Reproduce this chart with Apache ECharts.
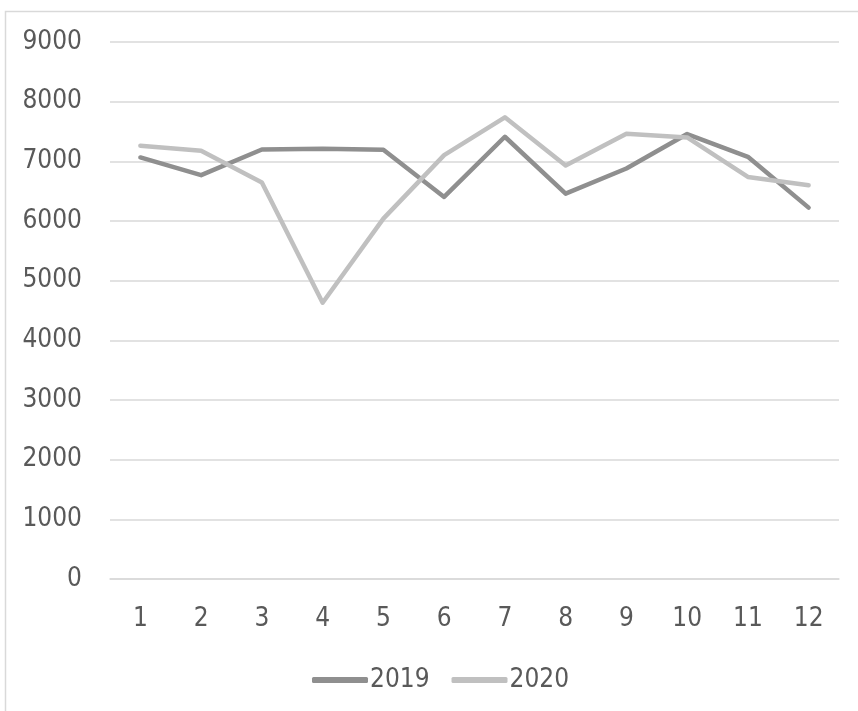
<!DOCTYPE html>
<html>
<head>
<meta charset="utf-8">
<script src="https://cdn.jsdelivr.net/npm/echarts@6/dist/echarts.min.js"></script>
<style>
html,body{margin:0;padding:0;background:#fff;}
#c{width:858px;height:711px;}
</style>
</head>
<body>
<div id="c"></div>
<script>
const categories = ['1','2','3','4','5','6','7','8','9','10','11','12'];
const values2019 = [7065, 6768, 7199, 7210, 7193, 6403, 7412, 6459, 6880, 7457, 7076, 6224];
const values2020 = [7261, 7176, 6644, 4630, 6039, 7104, 7737, 6930, 7462, 7400, 6739, 6599];
const seriesNames = ['2019', '2020'];

const font = '"DejaVu Sans Condensed", "Liberation Sans", sans-serif';
const fs = 26;
const chart = echarts.init(document.getElementById('c'));
chart.setOption({
  animation: false,
  backgroundColor: '#fff',
  graphic: [{
    type: 'rect',
    shape: { x: 5.5, y: 11.5, width: 1000, height: 1000 },
    style: { fill: 'none', stroke: '#d9d9d9', lineWidth: 1.5 },
    silent: true, z: -1
  }],
  grid: { left: 110, right: 19, top: 42, bottom: 132, containLabel: false },
  legend: {
    data: seriesNames,
    top: 662,
    left: 307,
    itemWidth: 56,
    itemHeight: 6,
    itemGap: 22,
    icon: 'roundRect',
    textStyle: { color: '#595959', fontSize: fs, fontFamily: font, padding: [0, 0, 0, -3] }
  },
  xAxis: {
    type: 'category',
    data: categories,
    boundaryGap: true,
    axisLine: { show: true, lineStyle: { color: '#d9d9d9', width: 1.5 } },
    axisTick: { show: false },
    axisLabel: { color: '#595959', fontSize: fs, fontFamily: font, margin: 27 }
  },
  yAxis: {
    type: 'value',
    min: 0, max: 9000, interval: 1000,
    axisLine: { show: false },
    axisTick: { show: false },
    splitLine: { lineStyle: { color: '#d9d9d9', width: 1.5 } },
    axisLabel: { color: '#595959', fontSize: fs, fontFamily: font, margin: 28, formatter: function (v) { return String(v); } }
  },
  series: [
    {
      name: seriesNames[0], type: 'line', data: values2019,
      showSymbol: false, symbol: 'none',
      lineStyle: { color: '#8f8f8f', width: 4.5, cap: 'round', join: 'round' },
      itemStyle: { color: '#8f8f8f' }, z: 3
    },
    {
      name: seriesNames[1], type: 'line', data: values2020,
      showSymbol: false, symbol: 'none',
      lineStyle: { color: '#c0c0c0', width: 4.5, cap: 'round', join: 'round' },
      itemStyle: { color: '#c0c0c0' }, z: 4
    }
  ]
});
</script>
</body>
</html>
